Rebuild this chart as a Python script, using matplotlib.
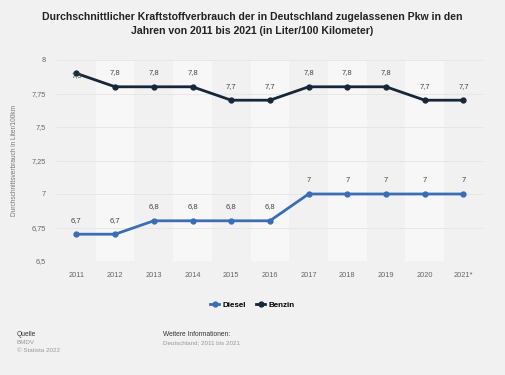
import matplotlib.pyplot as plt
from matplotlib.lines import Line2D

years = ["2011", "2012", "2013", "2014", "2015", "2016", "2017", "2018", "2019", "2020", "2021*"]
diesel = [6.7, 6.7, 6.8, 6.8, 6.8, 6.8, 7.0, 7.0, 7.0, 7.0, 7.0]
benzin = [7.9, 7.8, 7.8, 7.8, 7.7, 7.7, 7.8, 7.8, 7.8, 7.7, 7.7]
yticks = [6.5, 6.75, 7.0, 7.25, 7.5, 7.75, 8.0]

BG = "#f2f1f2"
DIESEL_C = "#3b6db5"
BENZIN_C = "#17273a"

plt.rcParams["font.family"] = ["Liberation Sans", "DejaVu Sans"]


def de(v):
    s = f"{v:g}"
    return s.replace(".", ",")


fig = plt.figure(figsize=(5.05, 3.75), dpi=100, facecolor=BG)
ax = fig.add_axes([0.113, 0.304, 0.843, 0.536], facecolor=BG)

x = list(range(len(years)))

# alternating column bands
for i in x:
    if i % 2 == 1:
        ax.axvspan(i - 0.5, i + 0.5, color="#f7f7f7", zorder=0, lw=0)

for t in yticks:
    ax.axhline(t, color="#e4e4e4", lw=0.6, zorder=1)

ax.plot(x, diesel, color=DIESEL_C, lw=2, marker="o", ms=3.5, zorder=3, clip_on=False)
ax.plot(x, benzin, color=BENZIN_C, lw=2, marker="o", ms=3.5, zorder=3, clip_on=False)

for xi, v in zip(x, diesel):
    ax.annotate(de(v), (xi, v), xytext=(0, 7.5), textcoords="offset points",
                ha="center", va="bottom", fontsize=5.5, color="#444444", zorder=4)
for xi, v in zip(x, benzin):
    off = 7.5 if v < 7.85 else -4
    ax.annotate(de(v), (xi, v), xytext=(0, off), textcoords="offset points",
                ha="center", va="bottom", fontsize=5.5, color="#444444", zorder=4)

ax.set_xlim(-0.5, len(years) - 0.5)
ax.set_ylim(6.5, 8.0)
ax.set_xticks(x)
ax.set_xticklabels(years)
ax.set_yticks(yticks)
ax.set_yticklabels([de(t) for t in yticks])
ax.tick_params(length=0, labelsize=5.3, colors="#666666", pad=8)
for s in ax.spines.values():
    s.set_visible(False)

ax.set_ylabel("Durchschnittsverbrauch in Liter/100km", fontsize=4.7, color="#777777", labelpad=10)

fig.text(0.5, 0.967, "Durchschnittlicher Kraftstoffverbrauch der in Deutschland zugelassenen Pkw in den\n"
         "Jahren von 2011 bis 2021 (in Liter/100 Kilometer)",
         ha="center", va="top", fontsize=7.6, fontweight="bold", color="#222222", linespacing=1.45)

handles = [
    Line2D([], [], color=DIESEL_C, lw=2, marker="o", ms=3.5),
    Line2D([], [], color=BENZIN_C, lw=2, marker="o", ms=3.5),
]
fig.legend(handles, ["Diesel", "Benzin"], loc="center", bbox_to_anchor=(0.5, 0.187),
           ncol=2, frameon=False, handlelength=1.1, handletextpad=0.4, columnspacing=1.3,
           prop={"size": 5.8, "weight": "bold"})

fig.text(0.033, 0.107, "Quelle", fontsize=4.8, color="#333333", va="center")
fig.text(0.033, 0.086, "BMDV", fontsize=4.5, color="#999999", va="center")
fig.text(0.033, 0.065, "© Statista 2022", fontsize=4.5, color="#999999", va="center")
fig.text(0.323, 0.107, "Weitere Informationen:", fontsize=4.8, color="#333333", va="center")
fig.text(0.323, 0.086, "Deutschland; 2011 bis 2021", fontsize=4.5, color="#999999", va="center")

fig.savefig("out.png", dpi=100, facecolor=BG)
